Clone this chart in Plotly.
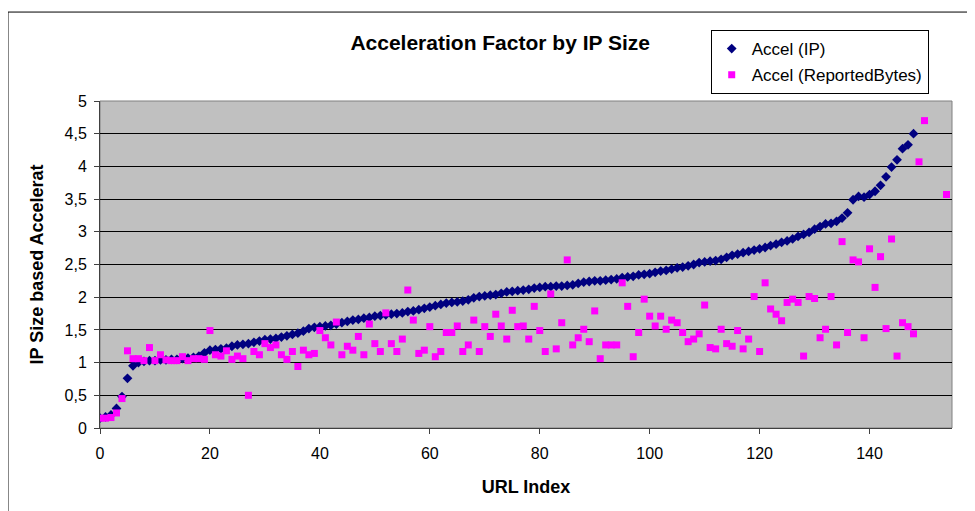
import plotly.graph_objects as go

# ---- data ----
accel_ip = [
    0.15, 0.17, 0.20, 0.30, 0.48, 0.76, 0.95, 1.00, 1.02, 1.03,
    1.03, 1.04, 1.04, 1.05, 1.05, 1.06, 1.07, 1.08, 1.10, 1.15,
    1.19, 1.20, 1.21, 1.22, 1.25, 1.27, 1.28, 1.29, 1.31, 1.33,
    1.35, 1.36, 1.37, 1.39, 1.41, 1.43, 1.45, 1.48, 1.52, 1.54,
    1.55, 1.56, 1.57, 1.59, 1.61, 1.63, 1.65, 1.66, 1.68, 1.69,
    1.71, 1.72, 1.73, 1.74, 1.75, 1.76, 1.78, 1.79, 1.81, 1.83,
    1.85, 1.87, 1.89, 1.91, 1.92, 1.93, 1.94, 1.96, 1.99, 2.01,
    2.02, 2.03, 2.04, 2.06, 2.08, 2.09, 2.10, 2.11, 2.12, 2.14,
    2.15, 2.16, 2.16, 2.17, 2.17, 2.18, 2.19, 2.21, 2.23, 2.24,
    2.25, 2.25, 2.26, 2.27, 2.28, 2.30, 2.31, 2.32, 2.34, 2.35,
    2.36, 2.38, 2.40, 2.41, 2.43, 2.45, 2.46, 2.48, 2.50, 2.53,
    2.54, 2.55, 2.56, 2.58, 2.61, 2.64, 2.66, 2.68, 2.70, 2.72,
    2.74, 2.76, 2.79, 2.81, 2.84, 2.86, 2.89, 2.93, 2.96, 2.99,
    3.04, 3.08, 3.12, 3.13, 3.16, 3.21, 3.29, 3.49, 3.54, 3.53,
    3.57, 3.62, 3.71, 3.84, 3.99, 4.10, 4.27, 4.33, 4.50,
]

accel_reported = [
    0.15, 0.15, 0.16, 0.23, 0.45, 1.18, 1.06, 1.06, 1.03, 1.23,
    1.03, 1.12, 1.04, 1.03, 1.03, 1.09, 1.03, 1.06, 1.06, 1.05,
    1.49, 1.12, 1.10, 1.18, 1.05, 1.10, 1.06, 0.50, 1.17, 1.12,
    1.29, 1.23, 1.27, 1.12, 1.05, 1.17, 0.94, 1.19, 1.12, 1.14,
    1.49, 1.38, 1.27, 1.62, 1.12, 1.25, 1.19, 1.40, 1.12, 1.59,
    1.29, 1.17, 1.76, 1.29, 1.17, 1.36, 2.11, 1.65, 1.14, 1.19,
    1.55, 1.09, 1.17, 1.46, 1.46, 1.56, 1.17, 1.27, 1.65, 1.17,
    1.55, 1.40, 1.74, 1.56, 1.36, 1.80, 1.55, 1.56, 1.36, 1.86,
    1.49, 1.17, 2.05, 1.21, 1.61, 2.57, 1.27, 1.38, 1.51, 1.32,
    1.79, 1.06, 1.27, 1.27, 1.27, 2.22, 1.86, 1.09, 1.46, 1.97,
    1.71, 1.56, 1.71, 1.51, 1.65, 1.61, 1.46, 1.32, 1.36, 1.44,
    1.88, 1.23, 1.21, 1.51, 1.29, 1.25, 1.49, 1.21, 1.36, 2.01,
    1.17, 2.22, 1.82, 1.74, 1.64, 1.92, 1.97, 1.92, 1.10, 2.01,
    1.98, 1.38, 1.51, 2.01, 1.27, 2.85, 1.46, 2.57, 2.54, 1.38,
    2.74, 2.15, 2.62, 1.52, 2.89, 1.10, 1.61, 1.55, 1.44, 4.07,
    4.70, None, None, None, 3.57,
]

ip_index = list(range(len(accel_ip)))
reported_index = list(range(len(accel_reported)))

x_ticks = [0, 20, 40, 60, 80, 100, 120, 140]
y_ticks = [0, 0.5, 1, 1.5, 2, 2.5, 3, 3.5, 4, 4.5, 5]
y_tick_labels = ["0", "0,5", "1", "1,5", "2", "2,5", "3", "3,5", "4", "4,5", "5"]

FONT = "Liberation Sans, Arial, sans-serif"

fig = go.Figure()
fig.add_trace(go.Scatter(
    x=ip_index, y=accel_ip, mode="markers", name="Accel (IP)",
    legendgroup="a",
    marker=dict(symbol="diamond", size=7.5, color="#000080",
                line=dict(width=0)),
))
fig.add_trace(go.Scatter(
    x=reported_index, y=accel_reported, mode="markers",
    name="Accel (ReportedBytes)", legendgroup="b",
    marker=dict(symbol="square", size=7, color="#FF00FF",
                line=dict(width=0)),
))

fig.update_layout(
    width=967, height=503,
    margin=dict(l=92, r=23, t=93, b=83),
    paper_bgcolor="white",
    plot_bgcolor="#C0C0C0",
    font=dict(family=FONT, size=16, color="black"),
    title=dict(text="<b>Acceleration Factor by IP Size</b>",
               x=0.509, xanchor="center", y=0.932, yanchor="middle",
               font=dict(family=FONT, size=21, color="black")),
    showlegend=True,
    legend=dict(x=0.7168, xanchor="left", y=1.217, yanchor="top",
                bgcolor="white", bordercolor="black", borderwidth=1,
                traceorder="grouped", tracegroupgap=1,
                itemwidth=30,
                font=dict(family=FONT, size=17, color="black")),
    xaxis=dict(
        range=[0, 155], tickvals=x_ticks, ticks="outside", ticklen=5,
        tickcolor="#404040", showgrid=False, zeroline=False,
        showline=True, linecolor="#404040", linewidth=1,
        ticklabelstandoff=6,
        title=dict(text="<b>URL Index</b>", standoff=19,
                   font=dict(family=FONT, size=18)),
        tickfont=dict(family=FONT, size=16),
    ),
    yaxis=dict(
        range=[0, 5], tickvals=y_ticks, ticktext=y_tick_labels,
        ticks="outside", ticklen=5, tickcolor="#404040",
        showgrid=True, gridcolor="black", gridwidth=1, zeroline=False,
        showline=True, linecolor="#404040", linewidth=1,
        ticklabelstandoff=4,
        title=dict(text="<b>IP Size based Accelerat</b>", standoff=16,
                   font=dict(family=FONT, size=18)),
        tickfont=dict(family=FONT, size=16),
    ),
    shapes=[
        # plot area border (top/right gray)
        dict(type="rect", xref="paper", yref="paper", x0=0, x1=1, y0=0, y1=1,
             line=dict(color="#808080", width=1), layer="below"),
        # chart area border (left and top visible)
        dict(type="line", xref="paper", yref="paper",
             x0=-0.108, x1=-0.108, y0=1.272, y1=-0.3,
             line=dict(color="black", width=1)),
        dict(type="line", xref="paper", yref="paper",
             x0=-0.108, x1=1.1, y0=1.272, y1=1.272,
             line=dict(color="black", width=1)),
    ],
)

fig.write_html("out.html")
